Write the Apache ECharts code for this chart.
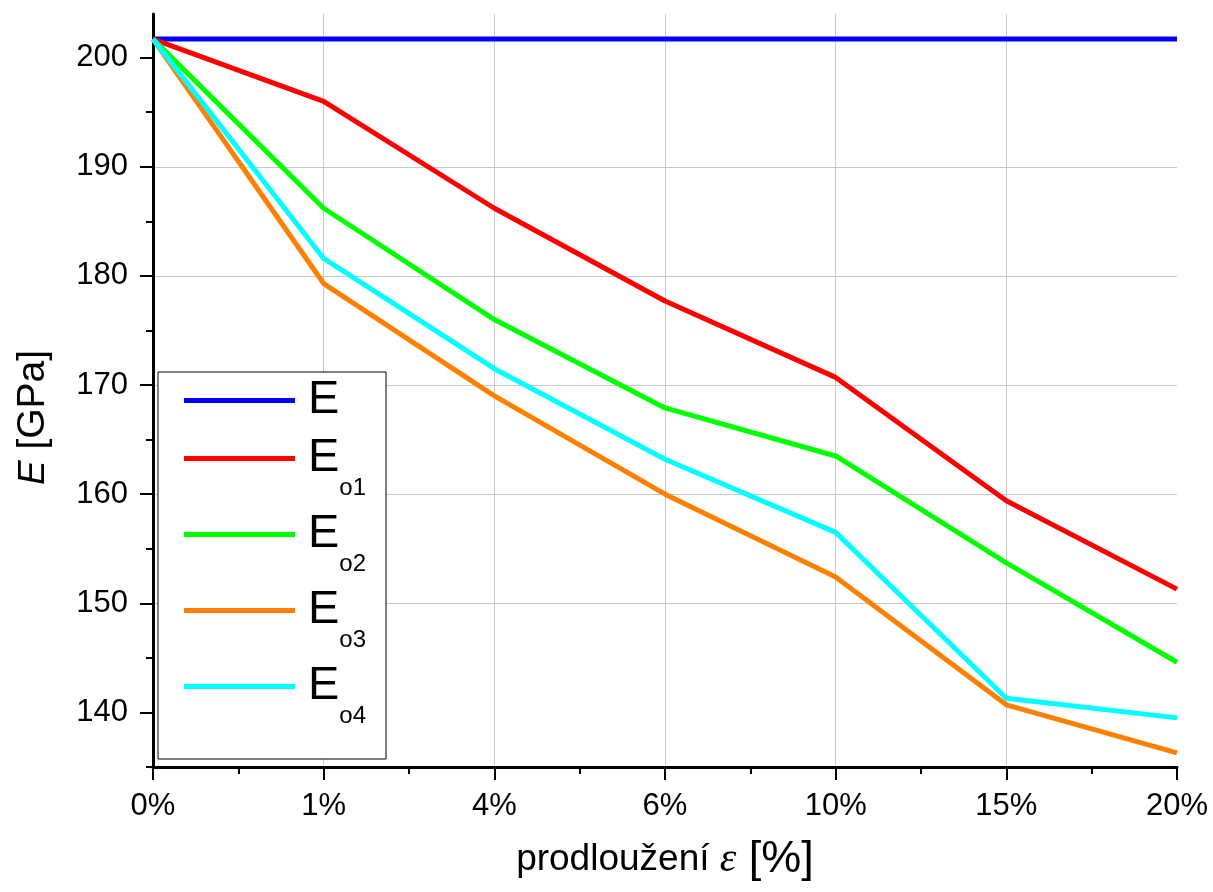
<!DOCTYPE html>
<html><head><meta charset="utf-8">
<script src="https://cdn.jsdelivr.net/npm/echarts@6/dist/echarts.min.js"></script>
<style>html,body{margin:0;padding:0;background:#fff}#c{width:1213px;height:892px}</style>
</head><body><div id="c"></div>
<script>
const categories = ['0%','1%','4%','6%','10%','15%','20%'];
const seriesNames = ['E','Eo1','Eo2','Eo3','Eo4'];
const valuesE   = [201.7,201.7,201.7,201.7,201.7,201.7,201.7];
const valuesEo1 = [201.7,196.0,186.2,177.7,170.7,159.4,151.3];
const valuesEo2 = [201.7,186.2,176.0,167.9,163.5,153.7,144.6];
const valuesEo3 = [201.7,179.3,169.0,160.0,152.4,140.7,136.3];
const valuesEo4 = [201.7,181.6,171.5,163.2,156.5,141.3,139.5];
const yMajorTicks = [140,150,160,170,180,190,200];
const yMinorTicks = [135,145,155,165,175,185,195];
const xMinorTicks = [0.5,1.5,2.5,3.5,4.5,5.5];
const colors = ['#0000ff','#ff0000','#00ff00','#ff8000','#00ffff'];
const allValues = [valuesE, valuesEo1, valuesEo2, valuesEo3, valuesEo4];

const FONT = 'Liberation Sans';
const chart = echarts.init(document.getElementById('c'), null, {renderer:'canvas'});
const tickStyle = {color:'#000', width:2};
chart.setOption({
  animation:false,
  backgroundColor:'#fff',
  textStyle:{fontFamily:FONT},
  grid:{left:153, right:36, top:14, bottom:125, containLabel:false, outerBoundsMode:'none'},
  xAxis:[{
    type:'category', data:categories, boundaryGap:false, position:'bottom',
    axisLine:{onZero:false, lineStyle:{color:'#000', width:3}},
    axisTick:{show:true, alignWithLabel:true, inside:false, length:13, lineStyle:tickStyle},
    axisLabel:{color:'#000', fontSize:31, fontFamily:FONT, margin:24},
    splitLine:{show:true, showMinLine:false, showMaxLine:false, lineStyle:{color:'#c8c8c8', width:1}},
    name:'{t|prodloužení }{e|ε}{b| [%]}', nameLocation:'middle', nameGap:70,
    nameTextStyle:{color:'#000', fontSize:36, fontFamily:FONT,
      rich:{
        t:{fontSize:37, fontFamily:FONT, color:'#000'},
        e:{fontSize:42, fontFamily:'Liberation Serif', fontStyle:'italic', color:'#000'},
        b:{fontSize:45, fontFamily:FONT, color:'#000'}
      }}
  },{
    type:'value', min:0, max:6, position:'bottom',
    axisLine:{show:false, onZero:false},
    axisTick:{show:true, inside:false, length:7, lineStyle:tickStyle, customValues:xMinorTicks},
    axisLabel:{show:false}, splitLine:{show:false}
  }],
  yAxis:[{
    type:'value', min:135, max:204, position:'left',
    axisLine:{show:true, onZero:false, lineStyle:{color:'#000', width:3}},
    axisTick:{show:true, inside:false, length:13, lineStyle:tickStyle, customValues:yMajorTicks},
    axisLabel:{color:'#000', fontSize:31, fontFamily:FONT, margin:25, customValues:yMajorTicks},
    splitLine:{show:true, showMinLine:false, showMaxLine:false, lineStyle:{color:'#c8c8c8', width:1}},
    name:'{i|E}{g| [GPa]}', nameLocation:'middle', nameGap:100,
    nameTextStyle:{color:'#000', fontSize:37, fontFamily:FONT, padding:[0,54,0,0],
      rich:{
        i:{fontSize:37, fontStyle:'italic', fontFamily:FONT, color:'#000'},
        g:{fontSize:39, fontFamily:FONT, color:'#000'}
      }}
  },{
    type:'value', min:135, max:204, position:'left',
    axisLine:{show:false, onZero:false},
    axisTick:{show:true, inside:false, length:7, lineStyle:tickStyle, customValues:yMinorTicks},
    axisLabel:{show:false}, splitLine:{show:false}
  }],
  legend:{
    orient:'vertical', left:158, top:372,
    padding:[5,20,31,26], itemWidth:111, itemHeight:5, itemGap:11,
    icon:'rect',
    backgroundColor:'#fff', borderColor:'#000', borderWidth:1, borderRadius:0,
    data:seriesNames,
    formatter:function(name){
      if (name.length === 1) return '{e|' + name + '}';
      return '{e2|' + name.charAt(0) + '}{s|' + name.slice(1) + '}';
    },
    textStyle:{color:'#000', fontFamily:FONT,
      rich:{
        e:{fontSize:47, padding:[0,0,0,8], color:'#000', fontFamily:FONT},
        e2:{fontSize:47, padding:[20,0,20,8], verticalAlign:'top', color:'#000', fontFamily:FONT},
        s:{fontSize:24, padding:[61,0,0,0], verticalAlign:'top', color:'#000', fontFamily:FONT}
      }}
  },
  series: seriesNames.map(function(n, i){
    return {name:n, type:'line', xAxisIndex:0, yAxisIndex:0, data:allValues[i],
      symbol:'none', showSymbol:false, color:colors[i],
      lineStyle:{color:colors[i], width:5}, z:2+i};
  })
});
</script></body></html>
